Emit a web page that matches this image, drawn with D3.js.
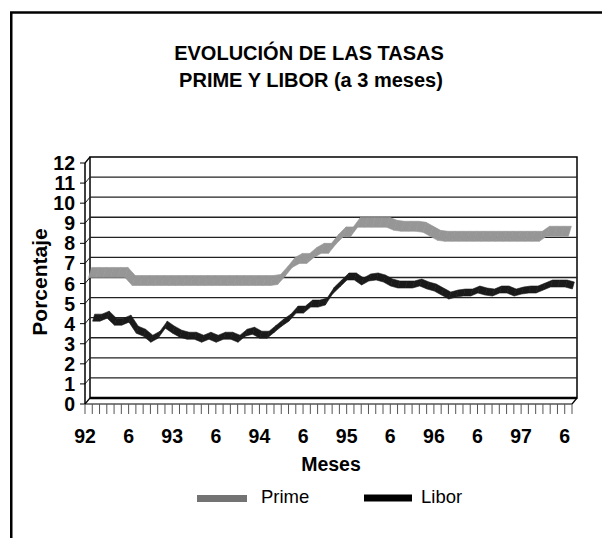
<!DOCTYPE html>
<html><head><meta charset="utf-8">
<script src="https://cdn.jsdelivr.net/npm/d3@7"></script>
<style>body{margin:0;background:#fff}svg{display:block}</style>
</head><body><svg id="c" width="602" height="538"></svg>
<script>
// ---- data ----
const years = ["92","93","94","95","96","97"];
const monthNums = [1,2,3,4,5,6,7,8,9,10,11,12];
const categories = [];
years.forEach(yr => monthNums.forEach(m => { if (categories.length < 67) categories.push(yr + "-" + m); }));
const xTickLabels = ["92","6","93","6","94","6","95","6","96","6","97","6"];
const yTickValues = [0,1,2,3,4,5,6,7,8,9,10,11,12];
const seriesNames = ["Prime","Libor"];
const prime = [6.4,6.4,6.4,6.4,6.4,6.4,
  6.0,6.0,6.0,6.0,6.0,6.0,6.0,6.0,6.0,6.0,6.0,6.0,6.0,6.0,6.0,6.0,6.0,6.0,6.0,6.0,
  6.05,6.45,6.9,7.1,7.1,7.4,7.6,7.6,8.05,8.42,8.42,8.9,8.9,8.9,8.9,8.9,
  8.75,8.7,8.7,8.7,8.65,8.45,8.25,
  8.2,8.2,8.2,8.2,8.2,8.2,8.2,8.2,8.2,8.2,8.2,8.2,8.2,
  8.2,8.45,8.45,8.45,8.45];
const libor = [4.25,4.25,4.4,4.05,4.05,4.2,3.65,3.5,3.2,3.4,3.9,3.65,
  3.45,3.35,3.35,3.2,3.35,3.2,3.35,3.35,3.2,3.5,3.6,3.4,
  3.4,3.7,4.0,4.25,4.65,4.65,4.95,4.95,5.05,5.6,5.95,6.3,
  6.3,6.05,6.25,6.3,6.2,6.0,5.9,5.9,5.9,6.0,5.85,5.75,
  5.55,5.35,5.45,5.5,5.5,5.65,5.55,5.5,5.65,5.65,5.5,5.6,
  5.65,5.65,5.8,5.95,5.95,5.95,5.85];

// ---- layout ----
const svg = d3.select("#c");
const FONT = "'Liberation Sans', Arial, sans-serif";
const left = 85, right = 572, yBottom = 404, yTop = 163;
const DX = 5, DY = -6; // depth offset front -> back
const x = d3.scaleBand().domain(categories).range([left, right]).padding(0);
const bw = x.bandwidth();
const y = d3.scaleLinear().domain([0, 12]).range([yBottom, yTop]);

svg.append("rect").attr("width",602).attr("height",538).attr("fill","#fff");

// outer frame
svg.append("rect").attr("x",11.25).attr("y",12.5).attr("width",720).attr("height",620)
  .attr("fill","none").attr("stroke","#000").attr("stroke-width",2.5);

// title
const title = svg.append("text").attr("font-family",FONT).attr("font-weight","bold")
  .attr("font-size",20).attr("text-anchor","middle").attr("fill","#000");
title.append("tspan").attr("x",309).attr("y",60).text("EVOLUCIÓN DE LAS TASAS");
title.append("tspan").attr("x",311).attr("y",87).text("PRIME Y LIBOR (a 3 meses)");

// back wall
const g = svg.append("g");
g.append("rect").attr("x",left+DX).attr("y",yTop+DY).attr("width",right-left).attr("height",yBottom-yTop)
  .attr("fill","#fff").attr("stroke","#000").attr("stroke-width",1.5);
// gridlines on back wall and left wall
yTickValues.slice(1,12).forEach(v => {
  g.append("line").attr("x1",left+DX).attr("x2",right+DX).attr("y1",y(v)+DY).attr("y2",y(v)+DY)
    .attr("stroke","#222").attr("stroke-width",1.3);
  g.append("line").attr("x1",left).attr("x2",left+DX).attr("y1",y(v)).attr("y2",y(v)+DY)
    .attr("stroke","#222").attr("stroke-width",1);
});
// left wall edges
g.append("line").attr("x1",left).attr("x2",left).attr("y1",yTop).attr("y2",yBottom).attr("stroke","#000").attr("stroke-width",1.5);
g.append("line").attr("x1",left).attr("x2",left+DX).attr("y1",yTop).attr("y2",yTop+DY).attr("stroke","#000").attr("stroke-width",1.2);
// floor
g.append("line").attr("x1",left+DX).attr("x2",right+DX).attr("y1",yBottom+DY).attr("y2",yBottom+DY).attr("stroke","#000").attr("stroke-width",2.5);
g.append("line").attr("x1",left).attr("x2",right).attr("y1",yBottom).attr("y2",yBottom).attr("stroke","#000").attr("stroke-width",1);
g.append("line").attr("x1",left).attr("x2",left+DX).attr("y1",yBottom).attr("y2",yBottom+DY).attr("stroke","#000").attr("stroke-width",1.2);
g.append("line").attr("x1",right).attr("x2",right+DX).attr("y1",yBottom).attr("y2",yBottom+DY).attr("stroke","#000").attr("stroke-width",1.2);

// y ticks + labels
yTickValues.forEach(v => {
  g.append("line").attr("x1",left-5).attr("x2",left).attr("y1",y(v)).attr("y2",y(v)).attr("stroke","#000").attr("stroke-width",1);
  g.append("text").attr("x",75).attr("y",y(v)+7).attr("text-anchor","end")
    .attr("font-family",FONT).attr("font-weight","bold").attr("font-size",19.5).text(v);
});

// x ticks
categories.concat(["end"]).forEach((c,i) => {
  const xx = left + i*bw;
  g.append("line").attr("x1",xx).attr("x2",xx).attr("y1",yBottom).attr("y2",yBottom+10)
    .attr("stroke","#555").attr("stroke-width",1);
});
xTickLabels.forEach((lab,k) => {
  const xx = x(categories[k*6]);
  g.append("text").attr("x",xx).attr("y",443).attr("text-anchor","middle")
    .attr("font-family",FONT).attr("font-weight","bold").attr("font-size",19.5).text(lab);
});

// axis titles
svg.append("text").attr("x",331).attr("y",471).attr("text-anchor","middle")
  .attr("font-family",FONT).attr("font-weight","bold").attr("font-size",19.5).text("Meses");
svg.append("text").attr("transform","translate(47,282) rotate(-90)").attr("text-anchor","middle")
  .attr("font-family",FONT).attr("font-weight","bold").attr("font-size",21).text("Porcentaje");

// ribbons
function ribbon(vals, lo, up, color) {
  const gg = g.append("g");
  const line = d3.line();
  for (let i = 0; i < vals.length - 1; i++) {
    const x0 = x(categories[i]) + bw/2, x1 = x(categories[i+1]) + bw/2;
    const pts = [
      [x0 + lo[0], y(vals[i]) + lo[1]],
      [x1 + lo[0], y(vals[i+1]) + lo[1]],
      [x1 + up[0], y(vals[i+1]) + up[1]],
      [x0 + up[0], y(vals[i]) + up[1]]
    ];
    gg.append("path").attr("d", line(pts) + "Z").attr("fill", color)
      .attr("stroke", color).attr("stroke-width", 0.6).attr("stroke-linejoin","round");
  }
}
ribbon(libor, [4, 2.5], [6, -4.5], "#1a1a1a");
ribbon(prime, [0, 2], [3, -8], "#969696");

// legend
svg.append("rect").attr("x",197).attr("y",495).attr("width",50).attr("height",7).attr("fill","#737373");
svg.append("text").attr("x",261).attr("y",503).attr("font-family",FONT).attr("font-size",18.5).text(seriesNames[0]);
svg.append("rect").attr("x",364).attr("y",494.5).attr("width",48).attr("height",7).attr("fill","#000");
svg.append("text").attr("x",421).attr("y",503).attr("font-family",FONT).attr("font-size",18.5).text(seriesNames[1]);
</script></body></html>
